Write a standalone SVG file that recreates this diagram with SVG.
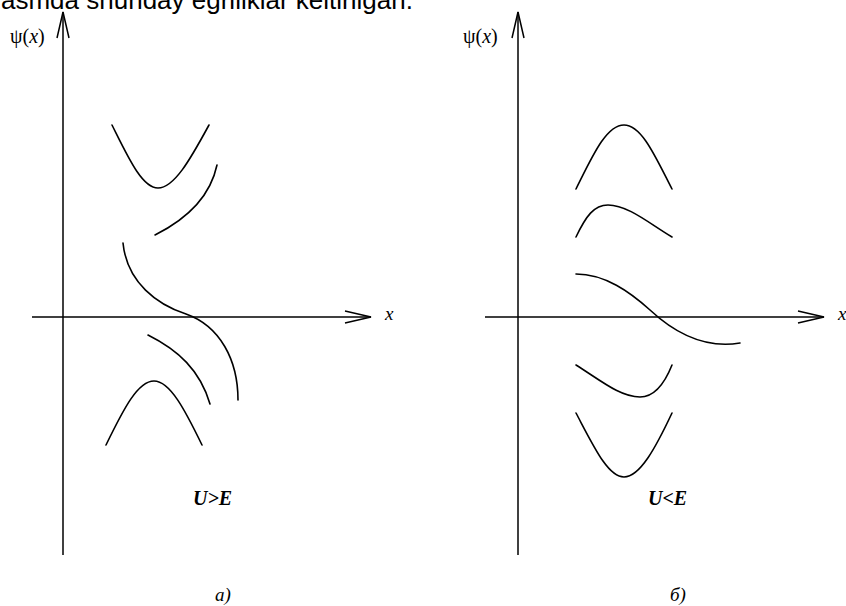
<svg xmlns="http://www.w3.org/2000/svg" width="846" height="606" viewBox="0 0 846 606">
<defs>
<style>
.ax{stroke:#000;stroke-width:1.5;fill:none}
.cv{stroke:#000;stroke-width:1.6;fill:none;stroke-linecap:round}
.lbl{font-family:"Liberation Serif","Times New Roman",serif;font-size:19px;fill:#000}
.psi{font-size:20px}
.it{font-style:italic}
.bi{font-style:italic;font-weight:bold;font-size:20px}
.top{font-family:"Liberation Sans",Arial,sans-serif;font-size:26px;fill:#000}
</style>
<marker id="ah" markerUnits="userSpaceOnUse" markerWidth="30" markerHeight="16" refX="26" refY="6" orient="auto" overflow="visible">
<path d="M0,0 L26,6 L0,12" fill="none" stroke="#000" stroke-width="1.5"/>
</marker>
</defs>
<rect width="846" height="606" fill="#fff"/>
<text class="top" x="1" y="9">asmda shunday egriliklar keltirilgan.</text>

<g id="connectors">
<line id="axis-y-a" class="ax" x1="63" y1="555" x2="63" y2="12" marker-end="url(#ah)"/>
<line id="axis-x-a" class="ax" x1="32" y1="317" x2="371" y2="317" marker-end="url(#ah)"/>
<line id="axis-y-b" class="ax" x1="518" y1="555" x2="518" y2="12" marker-end="url(#ah)"/>
<line id="axis-x-b" class="ax" x1="485" y1="317" x2="824" y2="317" marker-end="url(#ah)"/>
</g>

<g id="panel-a">
<path class="cv" d="M112,125 C128,157 142,188 158,188 C174,188 190,160 209,125"/>
<path class="cv" d="M155,235 C185,220 210,198 217,165"/>
<path class="cv" d="M123,243 C127,283 158,305 186,314 C220,326 238,360 238,400"/>
<path class="cv" d="M148,335 C178,350 200,370 210,404"/>
<path class="cv" d="M106,445 C124,408 138,381 154,381 C170,381 185,410 202,445"/>
</g>

<g id="panel-b">
<path class="cv" d="M576,189 C592,157 606,125 624,125 C642,125 656,158 672,189"/>
<path class="cv" d="M576,237 C586,216 594,205 608,205 C628,205 650,224 672,237"/>
<path class="cv" d="M576,274 C605,274 630,292 650,310 C680,338 710,348 740,343"/>
<path class="cv" d="M576,365 C600,380 620,397 640,397 C656,397 666,380 672,365"/>
<path class="cv" d="M576,413 C594,447 608,477 624,477 C640,477 656,447 672,413"/>
</g>

<g id="labels">
<text class="lbl psi" x="10" y="43">ψ(<tspan class="it">x</tspan>)</text>
<text class="lbl psi" x="463" y="43">ψ(<tspan class="it">x</tspan>)</text>
<text class="lbl it" x="385" y="320">x</text>
<text class="lbl it" x="838" y="320">x</text>
<text class="lbl bi" x="193" y="505">U&gt;E</text>
<text class="lbl bi" x="648" y="505">U&lt;E</text>
<text class="lbl it" x="215" y="601">a)</text>
<text class="lbl it" x="670" y="601">б)</text>
</g>
</svg>
